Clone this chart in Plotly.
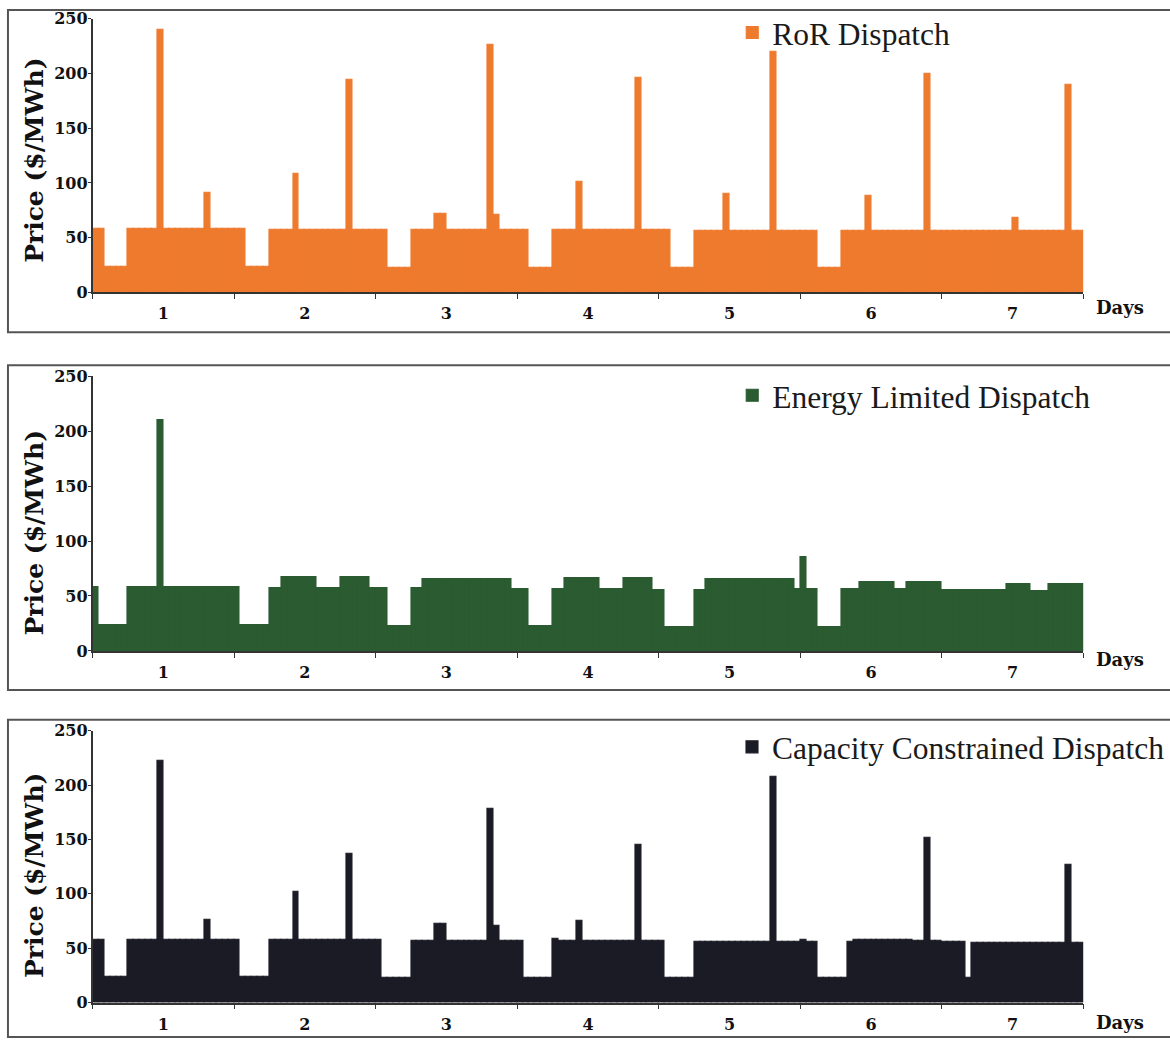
import plotly.graph_objects as go

# ---------------- data (hourly prices, $/MWh, 7 days x 24 h) ----------------
HOURS = list(range(168))
DAY_LABELS = ["1", "2", "3", "4", "5", "6", "7"]
DAY_CENTERS = [11.5, 35.5, 59.5, 83.5, 107.5, 131.5, 155.5]
Y_TICKS = [0, 50, 100, 150, 200, 250]

ror_price = [
    58, 58, 23, 23, 23, 23, 58, 58, 58, 58, 58, 240, 58, 58, 58, 58, 58, 58, 58, 91, 58, 58, 58, 58,
    58, 58, 23, 23, 23, 23, 57.5, 57.5, 57.5, 57.5, 108, 57.5, 57.5, 57.5, 57.5, 57.5, 57.5, 57.5, 57.5, 194, 57.5, 57.5, 57.5, 57.5,
    57.5, 57.5, 22.5, 22.5, 22.5, 22.5, 57, 57, 57, 57, 72, 72, 57, 57, 57, 57, 57, 57, 57, 226, 71, 57, 57, 57,
    57, 57, 22.5, 22.5, 22.5, 22.5, 57, 57, 57, 57, 101, 57, 57, 57, 57, 57, 57, 57, 57, 57, 196, 57, 57, 57,
    57, 57, 22, 22, 22, 22, 56.5, 56.5, 56.5, 56.5, 56.5, 90, 56.5, 56.5, 56.5, 56.5, 56.5, 56.5, 56.5, 220, 56.5, 56.5, 56.5, 56.5,
    56.5, 56.5, 56.5, 22, 22, 22, 22, 56, 56, 56, 56, 88, 56, 56, 56, 56, 56, 56, 56, 56, 56, 200, 56, 56,
    56, 56, 56, 56, 56, 56, 56, 56, 56, 56, 56, 56, 68, 56, 56, 56, 56, 56, 56, 56, 56, 190, 56, 56,
]

energy_price = [
    58, 23, 23, 23, 23, 23, 58, 58, 58, 58, 58, 210, 58, 58, 58, 58, 58, 58, 58, 58, 58, 58, 58, 58,
    58, 23, 23, 23, 23, 23, 57, 57, 67, 67, 67, 67, 67, 67, 57, 57, 57, 57, 67, 67, 67, 67, 67, 57,
    57, 57, 22.5, 22.5, 22.5, 22.5, 57, 57, 65, 65, 65, 65, 65, 65, 65, 65, 65, 65, 65, 65, 65, 65, 65, 56,
    56, 56, 22.5, 22.5, 22.5, 22.5, 56, 56, 66, 66, 66, 66, 66, 66, 56, 56, 56, 56, 66, 66, 66, 66, 66, 55.5,
    55.5, 22, 22, 22, 22, 22, 55.5, 55.5, 65, 65, 65, 65, 65, 65, 65, 65, 65, 65, 65, 65, 65, 65, 65, 56,
    85, 56, 56, 22, 22, 22, 22, 56, 56, 56, 63, 63, 63, 63, 63, 63, 56, 56, 63, 63, 63, 63, 63, 63,
    55, 55, 55, 55, 55, 55, 55, 55, 55, 55, 55, 61, 61, 61, 61, 54.5, 54.5, 54.5, 61, 61, 61, 61, 61, 61,
]

capacity_price = [
    58, 58, 24, 24, 24, 24, 58, 58, 58, 58, 58, 222, 57.5, 57.5, 57.5, 57.5, 57.5, 57.5, 57.5, 76, 57.5, 57.5, 57.5, 57.5,
    57.5, 24, 24, 24, 24, 24, 57.5, 57.5, 57.5, 57.5, 102, 57.5, 57.5, 57.5, 57.5, 57.5, 57.5, 57.5, 57.5, 137, 57.5, 57.5, 57.5, 57.5,
    57.5, 22.5, 22.5, 22.5, 22.5, 22.5, 56.5, 56.5, 56.5, 56.5, 72, 72, 56.5, 56.5, 56.5, 56.5, 56.5, 56.5, 56.5, 178, 71, 56.5, 56.5, 56.5,
    56.5, 23, 23, 23, 23, 23, 59, 56.5, 56.5, 56.5, 75, 56.5, 56.5, 56.5, 56.5, 56.5, 56.5, 56.5, 56.5, 56.5, 145, 56.5, 56.5, 56.5,
    56.5, 22.5, 22.5, 22.5, 22.5, 22.5, 56, 56, 56, 56, 56, 56, 56, 56, 56, 56, 56, 56, 56, 208, 56, 56, 56, 56,
    57.5, 56, 56, 22.5, 22.5, 22.5, 22.5, 22.5, 56, 57.5, 57.5, 57.5, 57.5, 57.5, 57.5, 57.5, 57.5, 57.5, 57.5, 56.5, 56.5, 152, 56.5, 56.5,
    55.5, 55.5, 55.5, 55.5, 22.5, 55, 55, 55, 55, 55, 55, 55, 55, 55, 55, 55, 55, 55, 55, 55, 55, 127, 55, 55,
]

SERIES_NAMES = ["RoR Dispatch", "Energy Limited Dispatch", "Capacity Constrained Dispatch"]

# ---------------- styling ----------------
COLORS = ["#EE7A2E", "#2B5B31", "#1B1B26"]
W, H = 1170, 1048
SERIF_BOLD = dict(family="DejaVu Serif", size=16, color="#111111", weight="bold")

X_DOMAIN = [93 / W, 1089 / W]
# layout positions in px from top (tuned against the rendered output)
PANELS = [(10, 288.6), (374, 653.8), (735.2, 1011.9)]   # (top, zero) of plot areas
BOXES = [(1, 329.3), (362.9, 693.5), (724, 1047)]
LEGEND_Y = [24, 393.4, 751.5]
YTITLE_Y = [154.3, 533.8, 882.7]
DAYS_Y = [304, 663, 1032]

fig = go.Figure()
data = [ror_price, energy_price, capacity_price]
layout = dict(
    width=W, height=H, margin=dict(l=0, r=0, t=0, b=0),
    paper_bgcolor="white", plot_bgcolor="white",
    bargap=0, showlegend=True, shapes=[], annotations=[],
)

for i in range(3):
    sfx = "" if i == 0 else str(i + 1)
    leg = "legend" if i == 0 else "legend" + str(i + 1)
    fig.add_trace(go.Bar(
        x=HOURS, y=data[i], width=1, name=SERIES_NAMES[i],
        xaxis="x" + sfx, yaxis="y" + sfx, legend=leg,
        marker=dict(color=COLORS[i], line=dict(color=COLORS[i], width=1.1)),
        hoverinfo="x+y",
    ))
    top, zero = PANELS[i]
    layout["xaxis" + sfx] = dict(
        domain=X_DOMAIN, anchor="y" + sfx, range=[-0.5, 167.5],
        tickmode="array", tickvals=DAY_CENTERS, ticktext=DAY_LABELS,
        ticks="", showline=True, linecolor="#333333", linewidth=1.5,
        showgrid=False, zeroline=False, tickfont=SERIF_BOLD,
        ticklabelstandoff=6,
        minor=dict(tickmode="linear", tick0=-0.5, dtick=24, ticks="outside",
                   ticklen=5, tickcolor="#333333", showgrid=False),
    )
    layout["yaxis" + sfx] = dict(
        domain=[1 - zero / H, 1 - top / H], anchor="x" + sfx, range=[0, 250],
        tickmode="array", tickvals=Y_TICKS, ticks="outside", ticklen=3,
        tickcolor="#333333", showline=True, linecolor="#333333", linewidth=1.5,
        showgrid=False, zeroline=False, tickfont=SERIF_BOLD,
        ticklabelstandoff=-3,
    )
    layout[leg] = dict(
        x=736 / W, xanchor="left", y=1 - LEGEND_Y[i] / H, yanchor="middle",
        bgcolor="rgba(0,0,0,0)", borderwidth=0,
        font=dict(family="Liberation Serif", size=31.5, color="#1a1a1a"),
    )
    b0, b1 = BOXES[i]
    layout["shapes"].append(dict(
        type="rect", xref="paper", yref="paper", x0=8 / W, x1=1.01,
        y0=1 - b1 / H, y1=1 - b0 / H, line=dict(color="#555555", width=2),
        fillcolor="rgba(0,0,0,0)", layer="below",
    ))
    layout["annotations"].append(dict(
        text="Price ($/MWh)", textangle=-90, xref="paper", yref="paper",
        x=34.5 / W, y=1 - YTITLE_Y[i] / H, xanchor="center", yanchor="middle",
        showarrow=False, font=dict(family="DejaVu Serif", size=25, color="#111111", weight="bold"),
    ))
    layout["annotations"].append(dict(
        text="Days", xref="paper", yref="paper",
        x=1100 / W, y=1 - DAYS_Y[i] / H, xanchor="left", yanchor="middle",
        showarrow=False, font=dict(family="DejaVu Serif", size=18, color="#111111", weight="bold"),
    ))

fig.update_layout(**layout)
fig.write_html(
    "out.html",
    config={"displayModeBar": False},
    post_script="document.body.style.margin='0';document.body.style.overflow='hidden';",
)
